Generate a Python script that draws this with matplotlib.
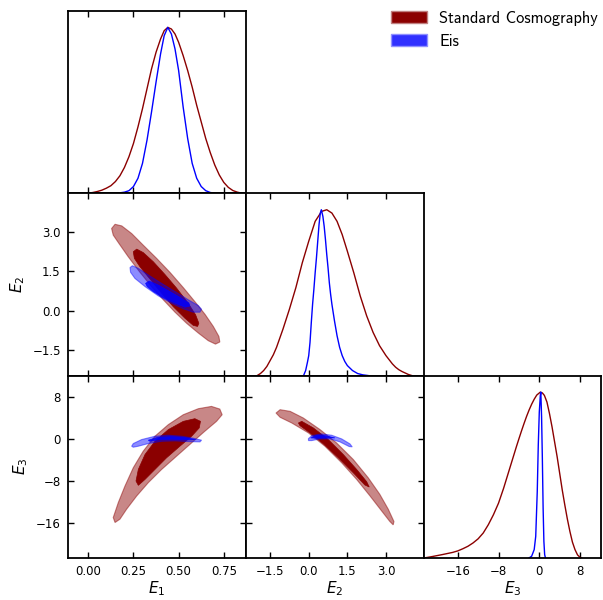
import matplotlib
matplotlib.use("Agg")
import matplotlib.pyplot as plt
from matplotlib.patches import Patch

# axis ticks and limits
e1_ticks = [0.0, 0.25, 0.5, 0.75]
e2_ticks = [-1.5, 0.0, 1.5, 3.0]
e3_ticks = [-16, -8, 0, 8]
e1_lim = (-0.114, 0.871)
e2_lim = (-2.45, 4.46)
e3_lim = (-22.7, 12.2)

labels = ["Standard Cosmography", "Eis"]

# 1D marginals (normalised to peak = 1)
e1_x_sc = [0.0, 0.025, 0.05, 0.075, 0.1, 0.125, 0.15, 0.175, 0.2, 0.225, 0.25, 0.275, 0.3, 0.325,
           0.35, 0.375, 0.4, 0.42, 0.44, 0.46, 0.48, 0.5, 0.525, 0.55, 0.575, 0.6, 0.625, 0.65,
           0.675, 0.7, 0.725, 0.75, 0.775, 0.8, 0.825, 0.85]
e1_p_sc = [0.0, 0.004, 0.01, 0.018, 0.03, 0.045, 0.07, 0.105, 0.155, 0.22, 0.30, 0.40, 0.51, 0.63,
           0.75, 0.85, 0.93, 0.98, 1.0, 0.99, 0.96, 0.91, 0.83, 0.74, 0.64, 0.53, 0.43, 0.33,
           0.245, 0.17, 0.11, 0.065, 0.035, 0.016, 0.006, 0.0]
e1_x_eis = [0.15, 0.175, 0.2, 0.225, 0.25, 0.275, 0.3, 0.325, 0.35, 0.375, 0.4, 0.42, 0.44, 0.46,
            0.48, 0.5, 0.525, 0.55, 0.575, 0.6, 0.625, 0.65, 0.675, 0.7]
e1_p_eis = [0.0, 0.002, 0.006, 0.015, 0.04, 0.09, 0.18, 0.32, 0.49, 0.67, 0.84, 0.95, 1.0, 0.96,
            0.87, 0.74, 0.52, 0.33, 0.18, 0.09, 0.04, 0.015, 0.004, 0.0]

e2_x_sc = [-2.0, -1.875, -1.75, -1.625, -1.5, -1.375, -1.25, -1.0, -0.75, -0.5, -0.25, 0.0, 0.25,
           0.5, 0.7, 0.9, 1.1, 1.3, 1.5, 1.75, 2.0, 2.25, 2.5, 2.75, 3.0, 3.125, 3.25, 3.375, 3.5,
           3.625, 3.75, 3.875, 4.0]
e2_p_sc = [0.0, 0.012, 0.03, 0.055, 0.09, 0.125, 0.17, 0.28, 0.40, 0.53, 0.68, 0.81, 0.93,
           0.99, 1.0, 0.98, 0.93, 0.85, 0.75, 0.62, 0.48, 0.36, 0.26, 0.18, 0.12, 0.095, 0.07,
           0.05, 0.035, 0.024, 0.015, 0.006, 0.0]
e2_x_eis = [-0.2, -0.12, -0.05, 0.0, 0.05, 0.1, 0.15, 0.2, 0.25, 0.3, 0.35, 0.4, 0.45, 0.49, 0.55,
            0.6, 0.65, 0.7, 0.75, 0.8, 0.85, 0.9, 1.0, 1.1, 1.2, 1.3, 1.4, 1.5, 1.7, 1.9, 2.1, 2.3]
e2_p_eis = [0.0, 0.03, 0.08, 0.12, 0.2, 0.32, 0.43, 0.52, 0.62, 0.71, 0.81, 0.91, 0.98, 1.0, 0.96,
            0.90, 0.82, 0.73, 0.65, 0.56, 0.49, 0.43, 0.33, 0.24, 0.17, 0.12, 0.085, 0.06, 0.03,
            0.012, 0.004, 0.0]

e3_x_sc = [-22.5, -21, -19, -17, -16, -15, -14, -13, -12, -11, -10, -9, -8, -7.5, -7, -6.5, -6,
           -5.5, -5, -4.5, -4, -3.5, -3, -2.5, -2, -1.5, -1, -0.5, 0.2, 0.6, 1.0, 1.5, 2.0, 2.5,
           3.0, 3.5, 4.0, 4.5, 5.0, 5.5, 6.0, 6.5, 7.0, 7.5, 8.0, 8.3]
e3_p_sc = [0.0, 0.008, 0.02, 0.033, 0.042, 0.055, 0.07, 0.09, 0.115, 0.15, 0.2, 0.26, 0.33, 0.375,
           0.42, 0.47, 0.52, 0.57, 0.62, 0.67, 0.718, 0.765, 0.81, 0.853, 0.892, 0.927, 0.957,
           0.982, 1.0, 0.995, 0.98, 0.94, 0.87, 0.79, 0.7, 0.61, 0.51, 0.41, 0.32, 0.235, 0.16,
           0.095, 0.05, 0.018, 0.003, 0.0]
e3_x_eis = [-2.0, -1.5, -1.0, -0.7, -0.4, -0.2, 0.0, 0.2, 0.3, 0.45, 0.6, 0.75, 0.9, 1.05, 1.2]
e3_p_eis = [0.0, 0.01, 0.05, 0.13, 0.4, 0.68, 0.88, 0.98, 1.0, 0.85, 0.6, 0.3, 0.1, 0.02, 0.0]

# 2D contours (68% inner, 95% outer), outlines
# E1 - E2
c12_sc95_x = [0.129, 0.148, 0.185, 0.240, 0.304, 0.378, 0.452, 0.526, 0.590, 0.646, 0.692, 0.723,
              0.728, 0.704, 0.664, 0.609, 0.544, 0.480, 0.415, 0.350, 0.286, 0.221, 0.170, 0.138]
c12_sc95_y = [3.12, 3.28, 3.22, 2.93, 2.49, 1.99, 1.46, 0.88, 0.35, -0.13, -0.59, -0.97,
              -1.18, -1.26, -1.13, -0.84, -0.47, -0.05, 0.42, 0.92, 1.46, 2.05, 2.55, 2.87]
c12_sc68_x = [0.249, 0.268, 0.304, 0.360, 0.424, 0.489, 0.553, 0.594, 0.612, 0.605, 0.581, 0.535,
              0.470, 0.406, 0.341, 0.286, 0.255]
c12_sc68_y = [2.24, 2.34, 2.21, 1.86, 1.38, 0.86, 0.29, -0.15, -0.47, -0.59, -0.55, -0.28,
              0.16, 0.67, 1.21, 1.67, 1.99]
c12_eis95_x = [0.231, 0.244, 0.277, 0.332, 0.406, 0.480, 0.553, 0.609, 0.627, 0.618, 0.581, 0.526,
               0.461, 0.387, 0.314, 0.258, 0.234]
c12_eis95_y = [1.64, 1.71, 1.61, 1.36, 1.04, 0.73, 0.42, 0.20, 0.06, -0.05, -0.05, 0.08,
               0.29, 0.57, 0.92, 1.23, 1.46]
c12_eis68_x = [0.317, 0.336, 0.387, 0.452, 0.516, 0.557, 0.562, 0.535, 0.480, 0.415, 0.360, 0.326]
c12_eis68_y = [1.04, 1.13, 0.98, 0.73, 0.48, 0.30, 0.18, 0.14, 0.29, 0.50, 0.73, 0.92]

# E1 - E3
c13_sc95_x = [0.148, 0.138, 0.166, 0.203, 0.249, 0.304, 0.369, 0.443, 0.526, 0.609, 0.682, 0.728,
              0.741, 0.710, 0.645, 0.572, 0.489, 0.406, 0.332, 0.268, 0.212, 0.175]
c13_sc95_y = [-15.93, -14.98, -12.12, -8.95, -5.45, -2.28, 0.58, 2.80, 4.70, 5.85, 6.29, 5.78,
              4.70, 3.43, 1.53, -0.69, -3.23, -5.77, -8.31, -10.85, -13.39, -15.30]
c13_sc68_x = [0.277, 0.264, 0.277, 0.314, 0.369, 0.443, 0.526, 0.590, 0.621, 0.614, 0.572, 0.507,
              0.433, 0.369, 0.314]
c13_sc68_y = [-8.82, -7.99, -5.77, -2.91, -0.38, 1.85, 3.43, 3.94, 3.43, 2.17, 0.58, -1.33,
              -3.55, -5.77, -7.68]
c13_eis95_x = [0.240, 0.249, 0.295, 0.369, 0.443, 0.516, 0.581, 0.627, 0.618, 0.553, 0.480, 0.406,
               0.332, 0.277, 0.249]
c13_eis95_y = [-1.33, -0.82, -0.06, 0.58, 0.77, 0.58, 0.20, -0.18, -0.50, -0.44, -0.31, -0.38,
               -0.82, -1.33, -1.52]
c13_eis68_x = [0.332, 0.387, 0.461, 0.535, 0.594, 0.544, 0.461, 0.387, 0.341]
c13_eis68_y = [-0.18, 0.39, 0.51, 0.32, -0.06, -0.12, 0.01, -0.12, -0.38]

# E2 - E3
c23_sc95_x = [-1.27, -1.11, -0.72, -0.21, 0.44, 1.08, 1.73, 2.31, 2.76, 3.09, 3.31, 3.28, 3.15,
              2.83, 2.38, 1.86, 1.28, 0.63, -0.01, -0.66, -1.11]
c23_sc95_y = [5.02, 5.66, 5.34, 4.07, 1.85, -0.69, -3.87, -7.36, -10.53, -13.39, -15.74, -16.38,
              -15.74, -13.71, -10.85, -7.68, -4.50, -1.33, 1.21, 3.12, 4.20]
c23_sc68_x = [-0.40, -0.27, 0.18, 0.76, 1.34, 1.86, 2.25, 2.35, 2.18, 1.73, 1.15, 0.57, 0.05, -0.34]
c23_sc68_y = [3.12, 3.43, 2.17, -0.06, -2.91, -5.77, -8.12, -9.14, -8.75, -6.41, -3.55, -0.88,
              1.21, 2.61]
c23_eis95_x = [-0.01, 0.12, 0.50, 0.89, 1.28, 1.60, 1.69, 1.57, 1.21, 0.83, 0.44, 0.12, -0.01]
c23_eis95_y = [0.13, 0.70, 1.02, 0.77, 0.07, -0.88, -1.45, -1.39, -0.50, 0.07, 0.07, -0.25, -0.25]
c23_eis68_x = [0.08, 0.31, 0.63, 1.02, 0.70, 0.31]
c23_eis68_y = [0.26, 0.77, 0.70, 0.26, 0.26, 0.20]

red = "#8B0000"
blue = "#0000FF"

plt.rcParams["font.family"] = "DejaVu Sans"
plt.rcParams["axes.linewidth"] = 1.3

fig, axes = plt.subplots(3, 3, figsize=(6.03, 6.0), dpi=100)
fig.subplots_adjust(left=0.1123, right=0.9975, top=0.982, bottom=0.0702, wspace=0, hspace=0)

for ax in (axes[0, 1], axes[0, 2], axes[1, 2]):
    ax.set_visible(False)

lims = [e1_lim, e2_lim, e3_lim]
ticks = [e1_ticks, e2_ticks, e3_ticks]
names = ["$E_1$", "$E_2$", "$E_3$"]

for i in range(3):
    for j in range(i + 1):
        ax = axes[i, j]
        ax.set_xlim(lims[j])
        ax.set_xticks(ticks[j])
        ax.tick_params(direction="in", top=True, right=True, length=4, width=1,
                       labelsize=8.5, pad=5)
        if i == j:
            ax.set_ylim(0, 1.1)
            ax.set_yticks([])
        else:
            ax.set_ylim(lims[i])
            ax.set_yticks(ticks[i])
        if i < 2:
            ax.tick_params(labelbottom=False)
        else:
            ax.set_xlabel(names[j], fontsize=11, labelpad=1)
        if j > 0 or i == 0:
            ax.tick_params(labelleft=False)
        else:
            ax.set_ylabel(names[i], fontsize=11)

# 1D
axes[0, 0].plot(e1_x_sc, e1_p_sc, color=red, lw=1)
axes[0, 0].plot(e1_x_eis, e1_p_eis, color=blue, lw=1)
axes[1, 1].plot(e2_x_sc, e2_p_sc, color=red, lw=1)
axes[1, 1].plot(e2_x_eis, e2_p_eis, color=blue, lw=1)
axes[2, 2].plot(e3_x_sc, e3_p_sc, color=red, lw=1)
axes[2, 2].plot(e3_x_eis, e3_p_eis, color=blue, lw=1)


def contours(ax, x95, y95, x68, y68, col, a95, a68):
    ax.fill(x95, y95, facecolor=col, alpha=a95, edgecolor=col, lw=0.8)
    ax.fill(x68, y68, facecolor=col, alpha=a68, edgecolor=col, lw=0.5)


contours(axes[1, 0], c12_sc95_x, c12_sc95_y, c12_sc68_x, c12_sc68_y, red, 0.47, 1.0)
contours(axes[1, 0], c12_eis95_x, c12_eis95_y, c12_eis68_x, c12_eis68_y, blue, 0.45, 0.85)
contours(axes[2, 0], c13_sc95_x, c13_sc95_y, c13_sc68_x, c13_sc68_y, red, 0.47, 1.0)
contours(axes[2, 0], c13_eis95_x, c13_eis95_y, c13_eis68_x, c13_eis68_y, blue, 0.45, 0.85)
contours(axes[2, 1], c23_sc95_x, c23_sc95_y, c23_sc68_x, c23_sc68_y, red, 0.47, 1.0)
contours(axes[2, 1], c23_eis95_x, c23_eis95_y, c23_eis68_x, c23_eis68_y, blue, 0.45, 0.85)

handles = [Patch(facecolor=red, edgecolor="#C08080", lw=1),
           Patch(facecolor="#3030FF", edgecolor="#9090FF", lw=1)]
fig.legend(handles, labels, loc="upper left", bbox_to_anchor=(391 / 603, 1 - 11 / 600),
           frameon=False, prop={"family": "cmss10", "size": 11.8}, handlelength=2.2,
           handleheight=0.75, handletextpad=0.75, labelspacing=0.5, borderpad=0,
           borderaxespad=0)

fig.savefig("out.png", dpi=100)
